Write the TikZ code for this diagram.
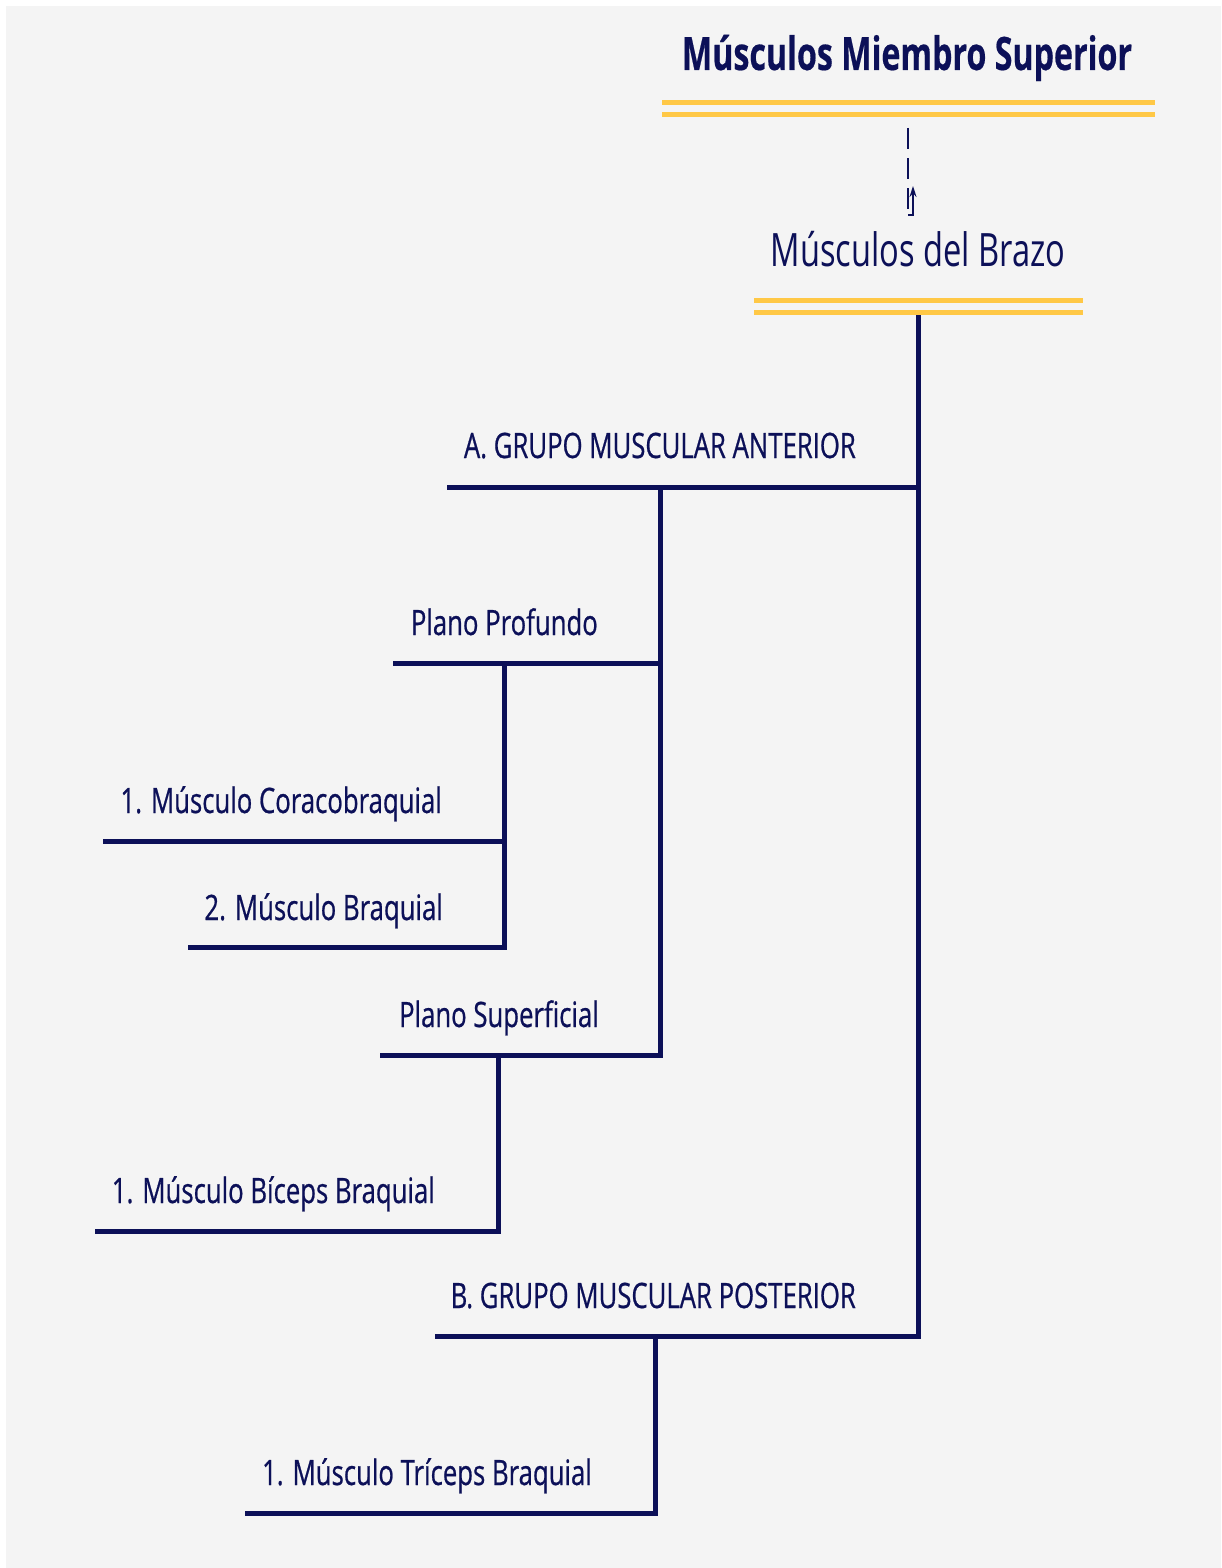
\documentclass[tikz,border=0pt]{standalone}
\usepackage{fontspec}
\setmainfont{Open Sans}[FakeStretch=0.735, FakeBold=0.6]
\newfontfamily\titlefont{Open Sans Bold}[FakeStretch=0.70, FakeBold=0.4]
\newfontfamily\subfont{Open Sans}[FakeStretch=0.71]
\usetikzlibrary{arrows.meta}
\definecolor{navy}{RGB}{12,16,88}
\definecolor{gold}{RGB}{255,200,70}
\definecolor{bg}{RGB}{244,244,244}
\tikzset{
  lbl/.style={anchor=base east, inner sep=0pt, text=navy, font=\fontsize{35}{42}\selectfont},
  tree/.style={draw=navy, line width=5pt, line join=miter},
  gold line/.style={draw=gold, line width=5pt},
}
\begin{document}
\begin{tikzpicture}[x=1pt,y=-1pt]
\useasboundingbox (0,0) rectangle (1221,1568);
\fill[bg] (6,6) rectangle (1221,1568);

% title
\node[inner sep=0pt, anchor=base, text=navy, font=\fontsize{46}{54}\titlefont] (title) at (907,70) {Músculos Miembro Superior};
\draw[gold line] (662,103) -- (1155,103);
\draw[gold line] (662,115) -- (1155,115);
\coordinate (tbot) at (908,128);

% second level
\node[inner sep=0pt, anchor=base, text=navy, font=\fontsize{46}{54}\subfont] (brazo) at (918,266) {Músculos del Brazo};
\draw[gold line] (754,300) -- (1083,300);
\draw[gold line] (754,312) -- (1083,312);
\coordinate (btop) at (908,215);
\coordinate (bhook) at (913,215);
\coordinate (btip) at (913,186);
\coordinate (broot) at (918,315);

% dashed connector
\draw[navy, line width=1.5pt, dash pattern=on 21pt off 9pt] (tbot) -- (btop);
\draw[navy, line width=1.5pt, -{Stealth[length=11pt,width=7pt]}] (btop) -- (bhook) -- (btip);

% groups
\node[lbl] (A) at (856,458) {A. GRUPO MUSCULAR ANTERIOR};
\coordinate (Al) at (447,487); \coordinate (Ar) at (918,487); \coordinate (Am) at (660,487);
\node[lbl] (B) at (856,1308) {B. GRUPO MUSCULAR POSTERIOR};
\coordinate (Bl) at (435,1336); \coordinate (Br) at (918,1336); \coordinate (Bm) at (655,1336);

\node[lbl] (PP) at (598,635) {Plano Profundo};
\coordinate (PPl) at (393,663); \coordinate (PPr) at (660,663); \coordinate (PPm) at (504,663);
\node[lbl] (PS) at (599,1027) {Plano Superficial};
\coordinate (PSl) at (380,1055); \coordinate (PSr) at (660,1055); \coordinate (PSm) at (498,1055);

\node[lbl] (C1) at (442,813) {1. Músculo Coracobraquial};
\coordinate (C1l) at (103,841); \coordinate (C1r) at (504,841);
\node[lbl] (C2) at (443,920) {2. Músculo Braquial};
\coordinate (C2l) at (188,947); \coordinate (C2r) at (504,947);
\node[lbl] (BI) at (435,1203) {1. Músculo Bíceps Braquial};
\coordinate (BIl) at (95,1231); \coordinate (BIr) at (498,1231);
\node[lbl] (TR) at (592,1485) {1. Músculo Tríceps Braquial};
\coordinate (TRl) at (245,1513); \coordinate (TRr) at (655,1513);

% tree connectors
\draw[tree] (broot) -- (Br) -- (Bl);
\draw[tree] (Ar) -- (Al);
\draw[tree] (Am) -- (PSr) -- (PSl);
\draw[tree] (PPr) -- (PPl);
\draw[tree] (PPm) -- (C2r) -- (C2l);
\draw[tree] (C1r) -- (C1l);
\draw[tree] (PSm) -- (BIr) -- (BIl);
\draw[tree] (Bm) -- (TRr) -- (TRl);
\end{tikzpicture}
\end{document}
